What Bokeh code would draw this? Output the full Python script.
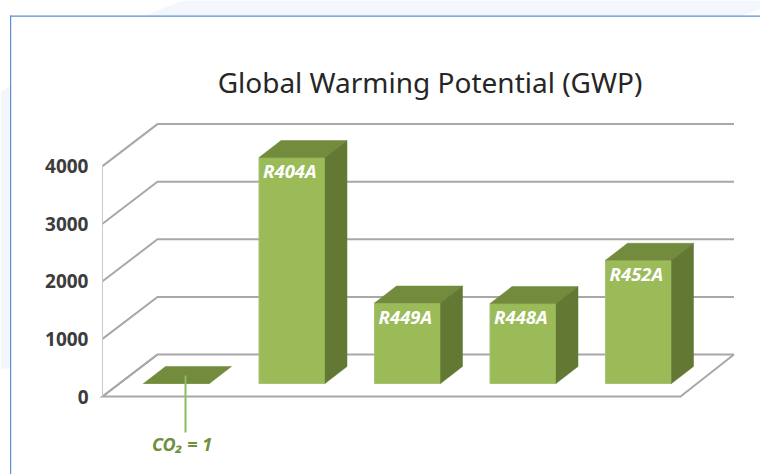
from bokeh.embed import file_html
from bokeh.resources import INLINE
from bokeh.plotting import figure
from bokeh.models import LinearAxis, FixedTicker, BoxAnnotation, PolyAnnotation, Range1d
from bokeh.core.properties import value

# ---- data ----
categories = ["CO₂ = 1", "R404A", "R449A", "R448A", "R452A"]
gwp = [1, 3922, 1397, 1387, 2140]
y_ticks = [0, 1000, 2000, 3000, 4000]
title_text = "Global Warming Potential (GWP)"

# ---- scale: one category step and one data unit in pixels ----
W, H = 760, 474
STEP = 115.5
UNIT = 0.0576
x_of_first = 176         # px of first category centre
y_of_zero = 396          # px of front-plane zero
dx = lambda px: px / STEP
dy = lambda px: px / UNIT

xs = list(range(len(categories)))
p = figure(width=W, height=H, output_backend="svg", toolbar_location=None,
           x_axis_type=None, y_axis_type=None,
           x_range=Range1d(-x_of_first / STEP, (W - x_of_first) / STEP),
           y_range=Range1d(-(H - y_of_zero) / UNIT, y_of_zero / UNIT),
           min_border=0, outline_line_color=None, background_fill_color="white",
           border_fill_color="white")
p.grid.visible = False


def screen_box(left, right, top, bottom, color):
    # screen-unit y of these annotations counts from the bottom of the canvas
    return BoxAnnotation(left=left, right=right, top=H - top, bottom=H - bottom,
                         left_units="screen", right_units="screen",
                         top_units="screen", bottom_units="screen",
                         fill_color=color, fill_alpha=1, line_color=None, level="underlay")


def screen_poly(xv, yv, color):
    return PolyAnnotation(xs=xv, ys=[H - v for v in yv],
                          xs_units="screen", ys_units="screen",
                          fill_color=color, fill_alpha=1, line_color=None, level="underlay")


# ---- page decoration (screen units) ----
pale = "#f3f6fc"
card = "#5a8fd0"
p.add_layout(screen_poly([145, 182, 760, 760, 742], [15, 0, 0, 8, 15], pale))
p.add_layout(screen_poly([0, 10, 10, 0], [92, 85, 368, 368], pale))
p.add_layout(screen_box(9.5, 10.7, 15, 474, card))
p.add_layout(screen_box(9.5, 760, 15, 16.2, card))

# ---- 3-D walls and floor ----
x_front = dx(102 - 176)
x_front_r = dx(680 - 176)
x_back_r = dx(733.5 - 176)
wall_dx, wall_dy = dx(55), dy(42)
grid = "#a8a8a8"
for t in y_ticks:
    p.line([x_front, x_front + wall_dx, x_back_r],
           [t, t + wall_dy, t + wall_dy], line_color=grid, line_width=2, line_join="miter")
p.line([x_front + wall_dx, x_front, x_front_r, x_back_r],
       [wall_dy, 0, 0, wall_dy], line_color=grid, line_width=2, line_join="miter")

# ---- bars ----
base = dy(13)
depth_x, depth_y = dx(22), dy(17)
bw = dx(66)
tops = [v + base for v in gwp]
front = "#9abb58"
top_c = "#728b3d"
side_c = "#637933"
p.vbar(x=xs, bottom=base, top=tops, width=bw, fill_color=front, line_color="#a6c272", line_width=1)
p.patches([[x - bw / 2, x + bw / 2, x + bw / 2 + depth_x, x - bw / 2 + depth_x] for x in xs],
          [[t, t, t + depth_y, t + depth_y] for t in tops],
          fill_color=top_c, line_color=top_c, line_width=0.5)
p.patches([[x + bw / 2, x + bw / 2 + depth_x, x + bw / 2 + depth_x, x + bw / 2] for x in xs[1:]],
          [[base, base + depth_y, t + depth_y, t] for t in tops[1:]],
          fill_color=side_c, line_color=side_c, line_width=0.5)

# ---- bar labels ----
p.text(x=[x - bw / 2 + dx(4) for x in xs[1:]], y=[t - dy(13) for t in tops[1:]],
       text=categories[1:], text_color="white", text_font=value("Noto Sans"),
       text_font_size="18.5px", text_font_style="bold italic", text_baseline="middle")

# ---- CO2 callout ----
p.line([xs[0] + dx(9), xs[0] + dx(9)], [gwp[0] + dy(21), dy(-36)],
       line_color="#8dbb5e", line_width=2)
p.text(x=[xs[0] + dx(5.5)], y=[dy(-47.5)], text=[categories[0]], text_color="#6f8f3e",
       text_font=value("Noto Sans"), text_font_size="18px", text_font_style="bold italic",
       text_align="center", text_baseline="middle")

# ---- title ----
p.text(x=[dx(429.5 - 176)], y=[dy(396 - 81)], text=[title_text], text_color="#262626",
       text_font=value("Noto Sans"), text_font_size="28px",
       text_align="center", text_baseline="middle")

# ---- value axis ----
axis = LinearAxis(ticker=FixedTicker(ticks=y_ticks), fixed_location=x_front, bounds=(0, 4000))
axis.axis_line_color = "#c8c8c8"
axis.axis_line_width = 1
axis.major_tick_line_color = None
axis.minor_tick_line_color = None
axis.major_tick_out = 0
axis.major_label_standoff = 14
axis.major_label_text_font = "Noto Sans"
axis.major_label_text_font_size = "19px"
axis.major_label_text_font_style = "bold"
axis.major_label_text_color = "#3c3c3c"
p.add_layout(axis, "left")

open("out.html", "w").write(file_html(p, INLINE))
